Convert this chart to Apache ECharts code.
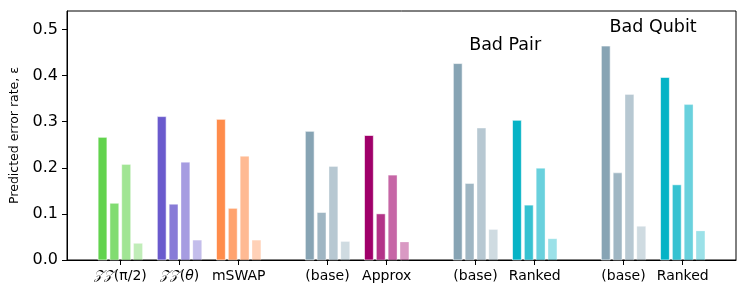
<!DOCTYPE html>
<html>
<head>
<meta charset="utf-8">
<script src="https://cdn.jsdelivr.net/npm/echarts@6/dist/echarts.min.js"></script>
<style>html,body{margin:0;padding:0;background:#fff;}#c{width:747px;height:296px;}</style>
</head>
<body>
<div id="c"></div>
<script>
// Category labels and their x positions (groups separated by a wider gap)
const categories = ['ZZ(π/2)', 'ZZ(θ)', 'mSWAP', '(base)', 'Approx', '(base)', 'Ranked', '(base)', 'Ranked'];
const positions = [0, 1, 2, 3.5, 4.5, 6, 7, 8.5, 9.5];
// Four bars per category
const bar1 = [0.266, 0.311, 0.305, 0.279, 0.270, 0.426, 0.303, 0.464, 0.396];
const bar2 = [0.123, 0.121, 0.112, 0.103, 0.100, 0.166, 0.119, 0.189, 0.163];
const bar3 = [0.207, 0.212, 0.225, 0.203, 0.184, 0.286, 0.199, 0.359, 0.337];
const bar4 = [0.036, 0.043, 0.043, 0.040, 0.039, 0.066, 0.046, 0.073, 0.063];
const groupColors = ['#62d34d', '#6a5acd', '#ff8c4b', '#87a4b4', '#a0006a', '#87a4b4', '#05b3c6', '#87a4b4', '#05b3c6'];
const yTicks = [0, 0.1, 0.2, 0.3, 0.4, 0.5];
const annotations = [['Bad Pair', 6.5, 0.465], ['Bad Qubit', 9.0, 0.504]];

const barSets = [bar1, bar2, bar3, bar4];
const offsets = [-0.3, -0.1, 0.1, 0.3];
const opacities = [1, 0.8, 0.6, 0.4];
const barW = 0.2;

const FONT = 'DejaVu Sans';

function labelFor(v) {
  const i = positions.findIndex(p => Math.abs(p - v) < 1e-6);
  if (i < 0) return '';
  const t = categories[i];
  if (t === 'ZZ(π/2)') return '{z|𝒵𝒵}(π/2)';
  if (t === 'ZZ(θ)') return '{z|𝒵𝒵}({i|θ})';
  return t;
}

const series = barSets.map((vals, k) => ({
  type: 'custom',
  name: 'b' + k,
  data: vals.map((v, i) => [positions[i] + offsets[k], v, i]),
  encode: { x: 0, y: 1 },
  renderItem: function (params, api) {
    const x = api.value(0), y = api.value(1), gi = api.value(2);
    const p0 = api.coord([x - barW / 2, y]);
    const p1 = api.coord([x + barW / 2, 0]);
    const inset = 1.5;
    return {
      type: 'rect',
      shape: { x: p0[0] + inset, y: p0[1], width: p1[0] - p0[0] - 2 * inset, height: p1[1] - p0[1] },
      style: { fill: groupColors[gi], opacity: opacities[k], stroke: 'rgba(255,255,255,0.6)', lineWidth: 1 }
    };
  }
}));

series.push({
  type: 'scatter',
  symbolSize: 0,
  itemStyle: { opacity: 1 },
  data: annotations.map(a => ({ value: [a[1], a[2]], name: a[0] })),
  label: {
    show: true, position: 'inside', formatter: p => p.name,
    fontFamily: FONT, fontSize: 17.5, color: '#000', textBorderWidth: 0, opacity: 1
  },
  silent: true
});

const chart = echarts.init(document.getElementById('c'), null, { renderer: 'canvas' });
chart.setOption({
  animation: false,
  backgroundColor: '#fff',
  grid: { left: 67, right: 11, top: 11, bottom: 36, show: true, borderColor: '#000', borderWidth: 1, backgroundColor: 'transparent' },
  xAxis: {
    type: 'value', min: -0.9, max: 10.4,
    splitLine: { show: false },
    axisLine: { show: true, onZero: false, lineStyle: { color: '#000', width: 1 } },
    axisTick: { show: true, length: 5, customValues: positions, lineStyle: { color: '#000' } },
    axisLabel: {
      customValues: positions, margin: 9, fontFamily: FONT, fontSize: 14, color: '#000',
      formatter: labelFor,
      rich: {
        z: { fontFamily: 'DejaVu Serif', fontStyle: 'italic', fontSize: 13, color: '#000' },
        i: { fontFamily: FONT, fontStyle: 'italic', fontSize: 14, color: '#000' }
      }
    }
  },
  yAxis: {
    type: 'value', min: 0, max: 0.54,
    name: 'Predicted error rate, ε', nameLocation: 'middle', nameRotate: 90, nameGap: 42,
    nameTextStyle: { fontFamily: FONT, fontSize: 12.5, color: '#000' },
    splitLine: { show: false },
    axisLine: { show: true, onZero: false, lineStyle: { color: '#000', width: 1 } },
    axisTick: { show: true, length: 5, customValues: yTicks, lineStyle: { color: '#000' } },
    axisLabel: { customValues: yTicks, margin: 9, fontFamily: FONT, fontSize: 16, color: '#000', formatter: v => v.toFixed(1) }
  },
  series: series
});
</script>
</body>
</html>
